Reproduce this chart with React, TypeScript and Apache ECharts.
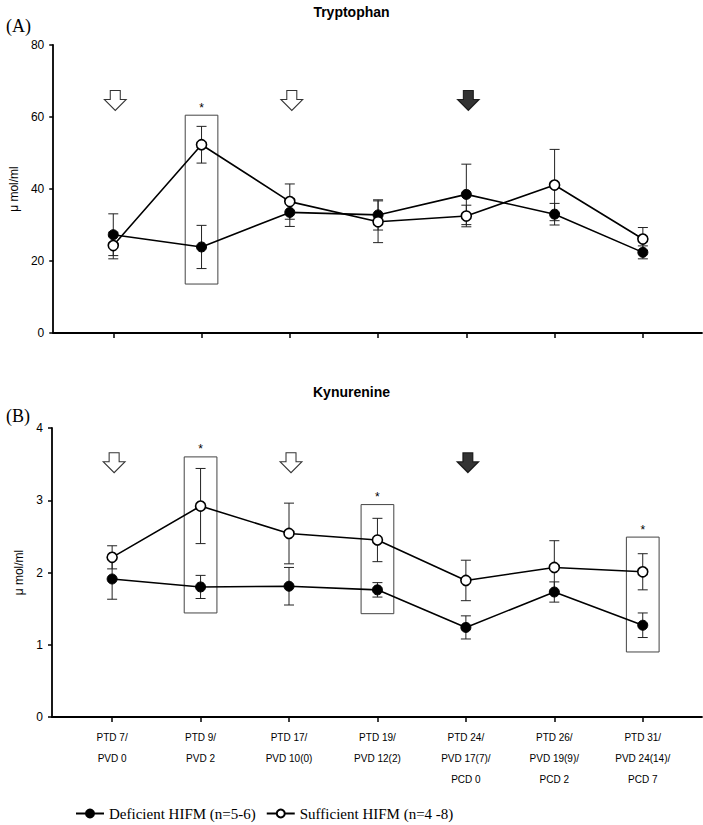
import React, { useEffect, useRef } from "react";
import * as echarts from "echarts";

const categories = [
  "PTD 7/\nPVD 0",
  "PTD 9/\nPVD 2",
  "PTD 17/\nPVD 10(0)",
  "PTD 19/\nPVD 12(2)",
  "PTD 24/\nPVD 17(7)/\nPCD 0",
  "PTD 26/\nPVD 19(9)/\nPCD 2",
  "PTD 31/\nPVD 24(14)/\nPCD 7",
];
const catIndex = [0, 1, 2, 3, 4, 5, 6];

const seriesNames = ["Deficient HIFM (n=5-6)", "Sufficient HIFM (n=4 -8)"];

// Tryptophan (µmol/ml)
const trpDeficientMean = [27.3, 23.9, 33.5, 32.8, 38.5, 33.0, 22.4];
const trpDeficientErr = [5.8, 6.0, 3.9, 4.2, 8.4, 3.0, 1.8];
const trpSufficientMean = [24.3, 52.3, 36.5, 30.9, 32.5, 41.1, 26.1];
const trpSufficientErr = [3.7, 5.1, 4.9, 5.8, 3.0, 9.9, 3.2];

// Kynurenine (µmol/ml)
const kynDeficientMean = [1.91, 1.8, 1.81, 1.76, 1.24, 1.73, 1.27];
const kynDeficientErr = [0.28, 0.16, 0.26, 0.1, 0.16, 0.14, 0.17];
const kynSufficientMean = [2.21, 2.92, 2.54, 2.45, 1.89, 2.07, 2.01];
const kynSufficientErr = [0.16, 0.52, 0.42, 0.3, 0.28, 0.37, 0.25];

// significance boxes: [category, low, high]
const trpBoxes = [[1, 13.6, 60.5]];
const kynBoxes = [
  [1, 1.44, 3.6],
  [3, 1.43, 2.94],
  [6, 0.9, 2.49],
];

// treatment arrows: [category, value]
const trpOpenArrows = [[0, 64.6], [2, 64.6]];
const trpFilledArrows = [[4, 64.6]];
const kynOpenArrows = [[0, 3.52], [2, 3.52]];
const kynFilledArrows = [[4, 3.52]];

const trpTicks = { min: 0, max: 80, interval: 20 };
const kynTicks = { min: 0, max: 4, interval: 1 };

const ARROW = "path://M6,0 L16,0 L16,9 L22,9 L11,20 L0,9 L6,9 Z";
const BOX_HALF = 0.185;

function errorSeries(means: number[], errs: number[], idx: number) {
  return {
    type: "custom",
    xAxisIndex: idx,
    yAxisIndex: idx,
    z: 2,
    silent: true,
    encode: { x: 0, y: 1 },
    data: catIndex.map((c, i) => [c, means[i], errs[i]]),
    renderItem: (_p: any, api: any) => {
      const x = api.value(0);
      const m = api.value(1);
      const e = api.value(2);
      const t = api.coord([x, m + e]);
      const b = api.coord([x, m - e]);
      const hw = 5;
      const st = { stroke: "#222", lineWidth: 1 };
      return {
        type: "group",
        children: [
          { type: "line", shape: { x1: t[0], y1: t[1], x2: b[0], y2: b[1] }, style: st },
          { type: "line", shape: { x1: t[0] - hw, y1: t[1], x2: t[0] + hw, y2: t[1] }, style: st },
          { type: "line", shape: { x1: b[0] - hw, y1: b[1], x2: b[0] + hw, y2: b[1] }, style: st },
        ],
      };
    },
  };
}

function lineSeries(name: string, means: number[], idx: number, filled: boolean, boxes?: number[][]) {
  const s: any = {
    type: "line",
    name,
    xAxisIndex: idx,
    yAxisIndex: idx,
    z: 4,
    data: catIndex.map((c, i) => [c, means[i]]),
    symbol: "circle",
    symbolSize: 10,
    lineStyle: { color: "#000", width: 1.6 },
    itemStyle: filled
      ? { color: "#000", borderColor: "#000", borderWidth: 1 }
      : { color: "#fff", borderColor: "#000", borderWidth: 1.6 },
  };
  if (boxes) {
    s.markArea = {
      silent: true,
      itemStyle: { color: "rgba(0,0,0,0)", borderColor: "#444", borderWidth: 1 },
      label: {
        show: true,
        position: "top",
        distance: 1,
        formatter: "*",
        color: "#000",
        fontSize: 12,
        fontFamily: "Liberation Sans",
      },
      data: boxes.map((b) => [
        { xAxis: b[0] - BOX_HALF, yAxis: b[1] },
        { xAxis: b[0] + BOX_HALF, yAxis: b[2] },
      ]),
    };
  }
  return s;
}

function arrowSeries(points: number[][], idx: number, filled: boolean) {
  return {
    type: "scatter",
    xAxisIndex: idx,
    yAxisIndex: idx,
    silent: true,
    z: 3,
    symbol: ARROW,
    symbolSize: [22, 20],
    symbolOffset: [2, 0],
    itemStyle: filled
      ? { color: "#000", borderColor: "#000", borderWidth: 1 }
      : { color: "#fff", borderColor: "#000", borderWidth: 1 },
    data: points,
  };
}

const axisLineStyle = { lineStyle: { color: "#000", width: 1.8 } };
const labelFont = { fontFamily: "Liberation Sans", fontSize: 12, color: "#000" };

function xAxis(idx: number, showLabels: boolean) {
  return {
    type: "value",
    gridIndex: idx,
    min: -0.68,
    max: 6.67,
    splitLine: { show: false },
    axisLine: { show: true, onZero: false, ...axisLineStyle },
    axisTick: {
      show: true,
      length: 5,
      customValues: catIndex,
      lineStyle: { color: "#000", width: 1.5 },
    },
    axisLabel: {
      show: showLabels,
      customValues: catIndex,
      formatter: (v: number) => categories[Math.round(v)] ?? "",
      fontFamily: "'Liberation Sans Narrow', 'Liberation Sans'",
      fontSize: 10,
      lineHeight: 21,
      margin: 10,
      color: "#000",
    },
  };
}

function yAxis(idx: number, t: { min: number; max: number; interval: number }) {
  return {
    type: "value",
    gridIndex: idx,
    min: t.min,
    max: t.max,
    interval: t.interval,
    name: "μ mol/ml",
    nameLocation: "middle",
    nameGap: 27,
    nameTextStyle: { ...labelFont },
    splitLine: { show: false },
    axisLine: { show: true, onZero: false, ...axisLineStyle },
    axisTick: { show: true, length: 4, lineStyle: { color: "#000", width: 1.5 } },
    axisLabel: { ...labelFont, margin: 9 },
  };
}

export default function App() {
  const ref = useRef<HTMLDivElement>(null);
  useEffect(() => {
    if (!ref.current) return;
    const chart = echarts.init(ref.current, null, { renderer: "svg" });
    const option: any = {
      animation: false,
      backgroundColor: "#fff",
      title: [
        {
          text: "Tryptophan",
          left: "center",
          top: 0,
          textStyle: { fontFamily: "Liberation Sans", fontSize: 14, fontWeight: "bold", color: "#000" },
        },
        {
          text: "Kynurenine",
          left: "center",
          top: 380,
          textStyle: { fontFamily: "Liberation Sans", fontSize: 14, fontWeight: "bold", color: "#000" },
        },
        {
          text: "(A)",
          left: 1,
          top: 12,
          textStyle: { fontFamily: "Liberation Serif", fontSize: 18, fontWeight: "normal", color: "#000" },
        },
        {
          text: "(B)",
          left: 1,
          top: 402,
          textStyle: { fontFamily: "Liberation Serif", fontSize: 18, fontWeight: "normal", color: "#000" },
        },
      ],
      legend: {
        data: seriesNames,
        left: 70,
        top: 801,
        itemWidth: 28,
        itemHeight: 10,
        itemGap: 10,
        textStyle: { fontFamily: "Liberation Serif", fontSize: 15, color: "#000" },
      },
      grid: [
        { left: 52, right: 1, top: 45, height: 288 },
        { left: 52, right: 1, top: 428, height: 289 },
      ],
      xAxis: [xAxis(0, false), xAxis(1, true)],
      yAxis: [yAxis(0, trpTicks), yAxis(1, kynTicks)],
      series: [
        errorSeries(trpDeficientMean, trpDeficientErr, 0),
        errorSeries(trpSufficientMean, trpSufficientErr, 0),
        lineSeries(seriesNames[0], trpDeficientMean, 0, true, trpBoxes),
        lineSeries(seriesNames[1], trpSufficientMean, 0, false),
        arrowSeries(trpOpenArrows, 0, false),
        arrowSeries(trpFilledArrows, 0, true),
        errorSeries(kynDeficientMean, kynDeficientErr, 1),
        errorSeries(kynSufficientMean, kynSufficientErr, 1),
        lineSeries(seriesNames[0], kynDeficientMean, 1, true, kynBoxes),
        lineSeries(seriesNames[1], kynSufficientMean, 1, false),
        arrowSeries(kynOpenArrows, 1, false),
        arrowSeries(kynFilledArrows, 1, true),
      ],
    };
    chart.setOption(option);
    return () => chart.dispose();
  }, []);
  return (
    <div
      ref={ref}
      style={{ position: "fixed", left: 0, top: 0, width: 703, height: 825, background: "#fff" }}
    />
  );
}
